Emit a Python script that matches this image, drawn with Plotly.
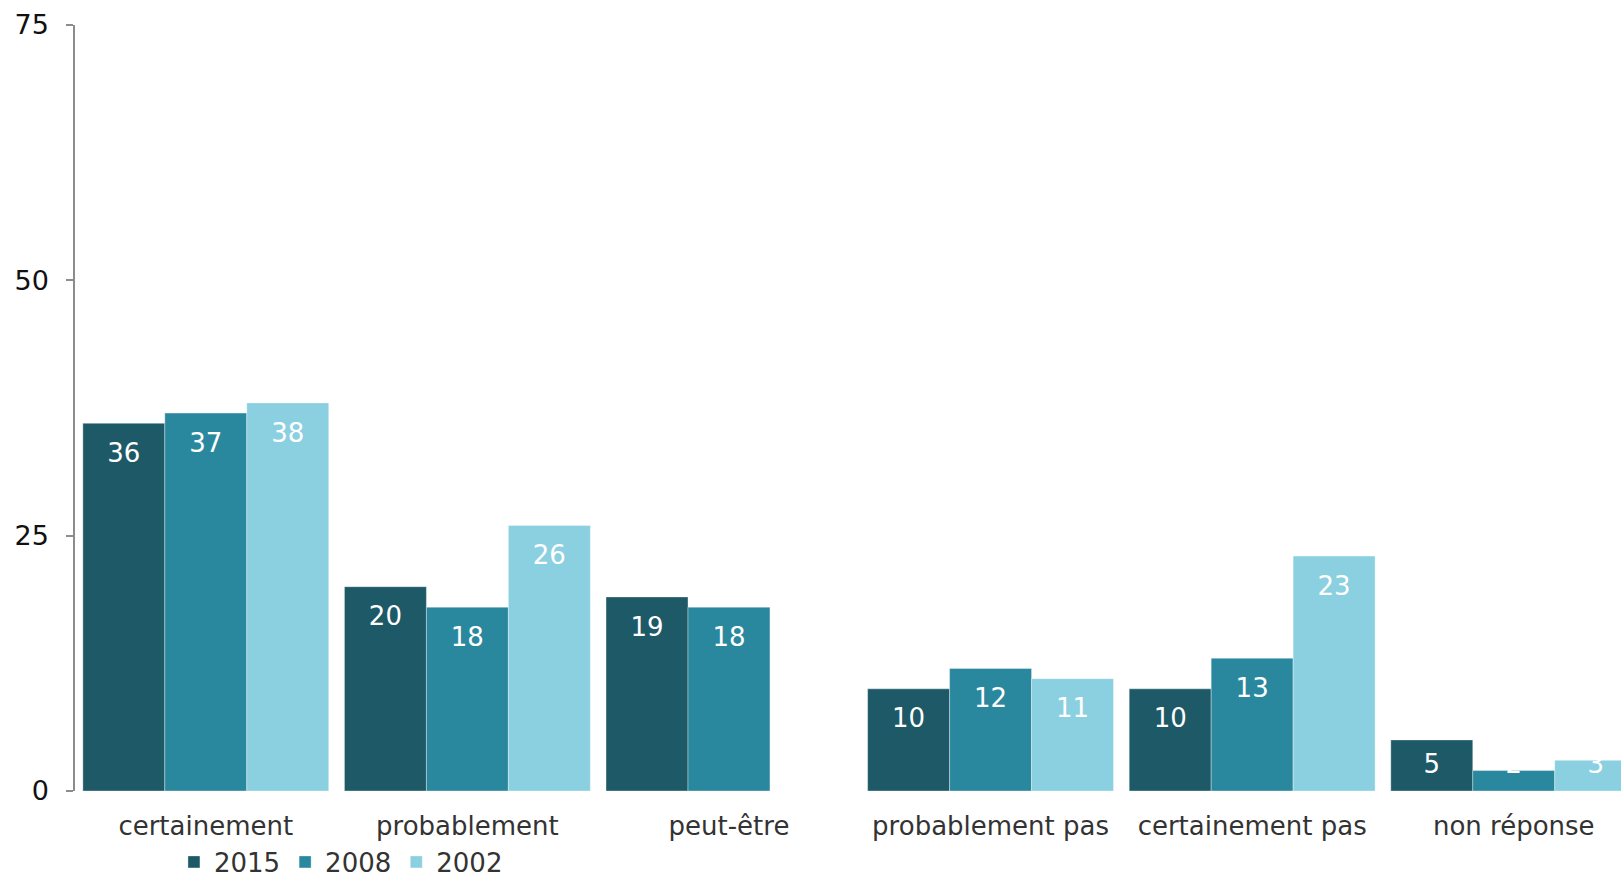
import plotly.graph_objects as go

categories = ["certainement", "probablement", "peut-être",
              "probablement pas", "certainement pas", "non réponse"]
years = ["2015", "2008", "2002"]
values_2015 = [36, 20, 19, 10, 10, 5]
values_2008 = [37, 18, 18, 12, 13, 2]
values_2002 = [38, 26, None, 11, 23, 3]
y_ticks = [0, 25, 50, 75]

colors = ["#1e5967", "#2a889e", "#8bd0e0"]
series = [values_2015, values_2008, values_2002]

FONT = "Verdana, DejaVu Sans, sans-serif"
GAP = 0.06
# labels never sit lower than this value, so short bars keep their label above the axis
LABEL_FLOOR = 5.5

fig = go.Figure()
for name, vals, col in zip(years, series, colors):
    fig.add_trace(go.Bar(
        x=categories,
        y=vals,
        name=name,
        offsetgroup=name,
        marker=dict(color=col, line=dict(color="rgba(255,255,255,0.35)", width=1)),
        cliponaxis=True,
        hoverinfo="skip",
    ))

# value labels: grouped scatter text sitting just under each bar top,
# the invisible marker sets the distance from the top edge
for name, vals in zip(years, series):
    fig.add_trace(go.Scatter(
        x=categories,
        y=[None if v is None else max(v, LABEL_FLOOR) for v in vals],
        mode="markers+text",
        offsetgroup=name,
        marker=dict(size=29, color="rgba(0,0,0,0)"),
        text=[("" if v is None else str(v)) for v in vals],
        textposition="bottom center",
        textfont=dict(family=FONT, size=26, color="white"),
        cliponaxis=True,
        showlegend=False,
        hoverinfo="skip",
    ))

fig.update_layout(
    width=1621,
    height=877,
    margin=dict(l=75, r=0, t=25, b=86, autoexpand=False),
    barmode="group",
    bargap=GAP,
    bargroupgap=0,
    scattermode="group",
    scattergap=GAP,
    plot_bgcolor="white",
    paper_bgcolor="white",
    font=dict(family=FONT, size=26, color="#333333"),
    showlegend=True,
    legend=dict(
        orientation="h",
        x=0.064, xanchor="left",
        y=-0.062, yanchor="top",
        font=dict(family=FONT, size=26, color="#333333"),
        itemwidth=30,
        tracegroupgap=0,
        bgcolor="rgba(0,0,0,0)",
    ),
)

fig.update_xaxes(
    type="category",
    range=[-0.5, 5.41],
    showline=False,
    showgrid=False,
    ticks="",
    ticklabelstandoff=17,
    tickfont=dict(family=FONT, size=26, color="#333333"),
)

fig.update_yaxes(
    range=[0, 75],
    tickvals=y_ticks,
    showgrid=False,
    zeroline=False,
    showline=True,
    linecolor="#8c8c8c",
    linewidth=1.5,
    ticks="outside",
    ticklen=7,
    tickcolor="#8c8c8c",
    tickwidth=1.5,
    ticklabelstandoff=12,
    tickfont=dict(family=FONT, size=27, color="#111111"),
)

fig.write_html("out.html")
